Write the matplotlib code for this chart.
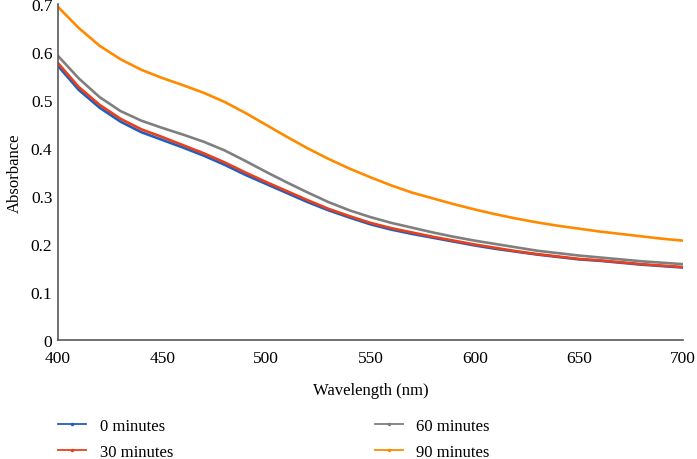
import matplotlib
matplotlib.use('Agg')
import matplotlib.pyplot as plt
from matplotlib.lines import Line2D
from matplotlib.ticker import FuncFormatter

wavelength = list(range(400, 701, 10))

abs_0min = [0.571, 0.521, 0.484, 0.455, 0.433, 0.417, 0.401, 0.384, 0.365, 0.344,
            0.325, 0.306, 0.287, 0.270, 0.255, 0.241, 0.230, 0.221, 0.213, 0.205,
            0.197, 0.190, 0.184, 0.178, 0.173, 0.168, 0.165, 0.161, 0.157, 0.154, 0.151]
abs_30min = [0.577, 0.527, 0.490, 0.461, 0.439, 0.423, 0.406, 0.389, 0.370, 0.349,
             0.329, 0.310, 0.291, 0.273, 0.258, 0.244, 0.233, 0.224, 0.215, 0.207,
             0.199, 0.192, 0.185, 0.179, 0.174, 0.169, 0.166, 0.162, 0.158, 0.155, 0.152]
abs_60min = [0.592, 0.545, 0.506, 0.477, 0.457, 0.442, 0.428, 0.413, 0.395, 0.373,
             0.350, 0.328, 0.307, 0.287, 0.270, 0.256, 0.244, 0.234, 0.224, 0.215,
             0.207, 0.200, 0.193, 0.186, 0.181, 0.176, 0.172, 0.168, 0.164, 0.161, 0.158]
abs_90min = [0.694, 0.650, 0.613, 0.585, 0.563, 0.546, 0.531, 0.515, 0.496, 0.473,
             0.448, 0.423, 0.399, 0.377, 0.357, 0.339, 0.322, 0.307, 0.295, 0.283,
             0.272, 0.262, 0.253, 0.245, 0.238, 0.232, 0.226, 0.221, 0.216, 0.211, 0.207]

series = [
    ('0 minutes', abs_0min, '#1F5FBF'),
    ('30 minutes', abs_30min, '#E8401C'),
    ('60 minutes', abs_60min, '#7F7F7F'),
    ('90 minutes', abs_90min, '#FF8A00'),
]

plt.rcParams['font.family'] = ['Liberation Serif', 'DejaVu Serif']

fig = plt.figure(figsize=(6.97, 4.60), dpi=100)
ax = fig.add_axes([0.0832, 0.2587, 0.8968, 0.7303])

handles = []
for label, vals, color in series:
    ax.plot(wavelength, vals, color=color, linewidth=1.9,
            solid_joinstyle='round', solid_capstyle='round')
    handles.append(Line2D([], [], color=color, linewidth=1.3, marker='o',
                          markersize=1.5, label=label))

ax.set_xlim(400, 700)
ax.set_ylim(0, 0.7)
ax.set_xticks(range(400, 701, 50))
ax.set_yticks([i / 10 for i in range(8)])
ax.yaxis.set_major_formatter(FuncFormatter(lambda v, p: '0' if v == 0 else f'{v:.1f}'))
ax.tick_params(length=0, labelsize=12.5, colors='black')
ax.tick_params(axis='y', pad=4)
ax.tick_params(axis='x', pad=7)

for side in ['top', 'right']:
    ax.spines[side].set_visible(False)
for side in ['left', 'bottom']:
    ax.spines[side].set_color('#595959')
    ax.spines[side].set_linewidth(1.2)

ax.set_xlabel('Wavelength (nm)', fontsize=12, labelpad=12)
ax.set_ylabel('Absorbance', fontsize=12, labelpad=6)

fig.legend(handles=handles, loc='upper left', bbox_to_anchor=(0.083, 0.09), ncol=2,
           frameon=False, fontsize=12, handlelength=1.7, handletextpad=0.8,
           columnspacing=12.1, labelspacing=0.6, borderpad=0, borderaxespad=0)

fig.savefig('out.png', dpi=100)
